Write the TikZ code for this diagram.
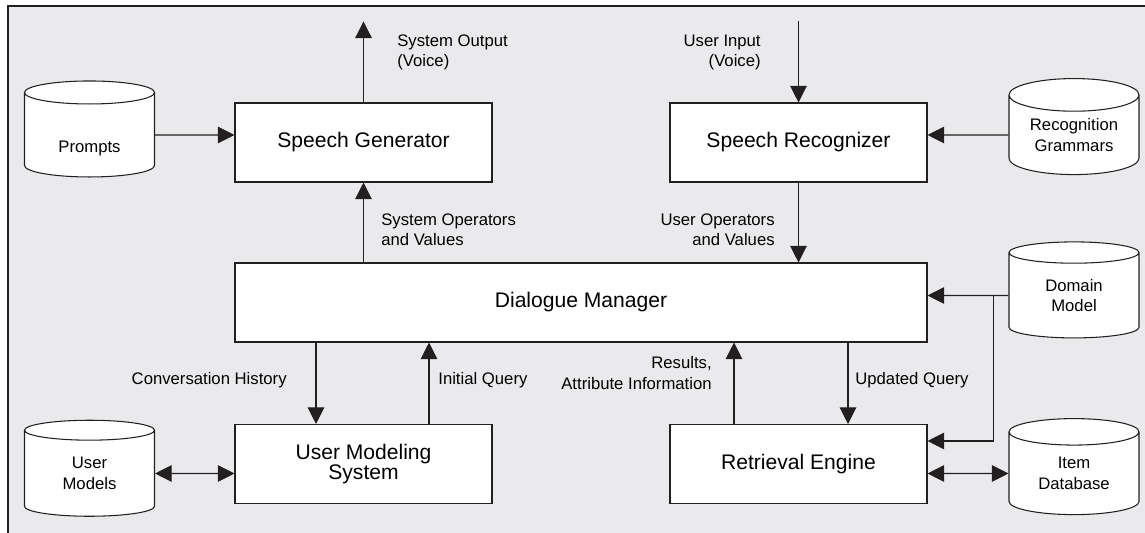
\documentclass[tikz,border=0pt]{standalone}
\usepackage{fontspec}
\setmainfont{Liberation Sans}
\usepackage{xcolor}
\usepackage{tikz}
\usetikzlibrary{shapes,shapes.geometric,arrows,arrows.meta,calc,positioning}

\definecolor{panelgray}{HTML}{EAEAEC}
\definecolor{inkgray}{HTML}{231F20}
\newcommand{\blockfont}{\fontsize{12}{11.5}\selectfont}
\newcommand{\notefont}{\fontsize{9.5}{11.6}\selectfont}

\begin{document}
\begin{tikzpicture}[arrow/.style = {draw=inkgray, line width=0.6pt, -{Triangle[length=9.5pt,width=9.5pt]}},
		both/.style = {draw=inkgray, line width=0.6pt, {Triangle[length=9.5pt,width=9.5pt]}-{Triangle[length=9.5pt,width=9.5pt]}}]
		\tikzset{block/.style={draw=inkgray, line width=0.6pt, fill=white, rectangle, inner sep=0pt, align=center, minimum width=5.14cm, minimum height=1.58cm, font=\blockfont}}
		\tikzset{db/.style={cylinder, shape border rotate=90, aspect=0.37, draw=inkgray, line width=0.6pt, fill=white, minimum width=2.6cm, minimum height=1.92cm, inner sep=0pt, align=center, font=\notefont}}
		\tikzset{note/.style={inner sep=0pt, font=\notefont}}

		\useasboundingbox (0,0) rectangle (22.9,10.66);

		% Panel
		\fill[panelgray] (0.16,0) rectangle (22.9,10.54);
		\draw[inkgray, line width=0.6pt] (0.16,0) -- (0.16,10.54) -- (22.9,10.54);

		% Blocks
		\node[block] (gen) at (7.27,7.81) {Speech Generator};

		\node[block] (rec) at (15.97,7.81) {Speech Recognizer};

		\node[block, minimum width=13.84cm] (dm) at (11.62,4.61) {Dialogue Manager};

		\node[block] (ums) at (7.27,1.38) {User Modeling\\System};

		\node[block] (ret) at (15.97,1.38) {Retrieval Engine};

		% Databases
		\node[db] (prompts) at (1.79,7.96) {\raisebox{-0.26cm}[\height][\depth]{Prompts}};

		\node[db] (grammars) at (21.48,7.96) {Recognition\\Grammars};

		\node[db] (domain) at (21.48,4.75) {Domain\\Model};

		\node[db] (usermodels) at (1.79,1.19) {User\\Models};

		\node[db] (itemdb) at (21.48,1.19) {Item\\Database};

		% Free ends
		\coordinate (voiceout) at ($(gen.north)+(0,1.62)$);
		\coordinate (voicein) at ($(rec.north)+(0,1.62)$);
		\coordinate (split) at ($(domain -| dm.east)+(1.32,0)$);
		\coordinate (retin) at ($(ret.east)+(0,0.46)$);

		% Labels
		\node[note, anchor=west, align=left] (outlbl) at (7.94,9.61) {System Output\\(Voice)};

		\node[note, anchor=east, align=right] (inlbl) at (15.22,9.61) {User Input\\(Voice)};

		\node[note, anchor=west, align=left] (sysop) at (7.62,6.07) {System Operators\\and Values};

		\node[note, anchor=east, align=right] (userop) at (15.50,6.07) {User Operators\\and Values};

		\node[note, anchor=east] (hist) at (5.74,3.06) {Conversation History};

		\node[note, anchor=west] (initq) at (8.76,3.06) {Initial Query};

		\node[note, anchor=east, align=right] (results) at (14.24,3.2) {Results,\\Attribute Information};

		\node[note, anchor=west] (updq) at (17.10,3.06) {Updated Query};

		% Arrows
		\draw [arrow] (prompts) -- (prompts -| gen.west);
		\draw [arrow] (gen.north) -- (voiceout);
		\draw [arrow] (voicein) -- (rec.north);
		\draw [arrow] (grammars) -- (grammars -| rec.east);
		\draw [arrow] (dm.north -| gen) -- (gen.south);
		\draw [arrow] (rec.south) -- (dm.north -| rec);
		\draw [arrow] (domain) -- (domain -| dm.east);
		\draw [arrow] (split) |- (retin);
		\draw [arrow] ([xshift=-0.95cm]ums.north |- dm.south) -- ([xshift=-0.95cm]ums.north);
		\draw [arrow] ([xshift=1.31cm]ums.north) -- ([xshift=1.31cm]ums.north |- dm.south);
		\draw [arrow] ([xshift=-1.29cm]ret.north) -- ([xshift=-1.29cm]ret.north |- dm.south);
		\draw [arrow] ([xshift=0.99cm]ret.north |- dm.south) -- ([xshift=0.99cm]ret.north);
		\draw [both] (usermodels) -- (usermodels -| ums.west);
		\draw [both] (ret.east |- itemdb) -- (itemdb);

	\end{tikzpicture}
\end{document}
